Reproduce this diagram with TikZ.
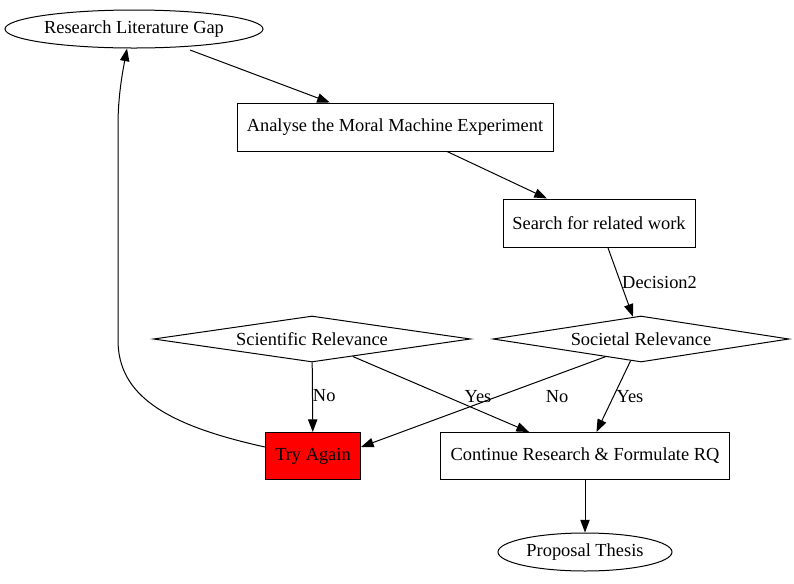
\documentclass[tikz,border=0pt]{standalone}
\usepackage{fontspec}
\setmainfont{Liberation Serif}
\usetikzlibrary{shapes.geometric,arrows.meta,calc}
\begin{document}
\begin{tikzpicture}[x=0.75pt,y=-0.75pt,
  every node/.style={font=\fontsize{13.8}{16}\selectfont, line width=0.75pt},
  box/.style={draw, rectangle, inner sep=0pt},
  oval/.style={draw, ellipse, inner sep=0pt},
  dia/.style={draw, diamond, inner sep=0pt, shape aspect=6.4},
  edge/.style={draw, line width=0.75pt, -{Triangle[length=9.5pt,width=7pt]}},
  lbl/.style={font=\fontsize{13.8}{16}\selectfont, inner sep=0pt}]
\useasboundingbox (0,0) rectangle (794,583);
\node[oval, minimum width=193.5pt, minimum height=28.5pt] (rlg) at (134,29) {Research Literature Gap};
\node[box, minimum width=237pt, minimum height=36pt] (amm) at (395,127) {Analyse the Moral Machine Experiment};
\node[box, minimum width=144pt, minimum height=36pt] (srw) at (599,223) {Search for related work};
\node[dia, minimum width=222pt, minimum height=34.5pt] (sr) at (641,339) {Societal Relevance};
\node[dia, minimum width=237.75pt, minimum height=34.5pt] (sci) at (312,339) {Scientific Relevance};
\node[box, fill=red, minimum width=71.25pt, minimum height=35.25pt] (ta) at (313,456) {Try Again};
\node[box, minimum width=216.75pt, minimum height=35.25pt] (cr) at (585,456) {Continue Research \& Formulate RQ};
\node[oval, minimum width=130.5pt, minimum height=28.5pt] (pt) at (585,552) {Proposal Thesis};

\path[edge] ($(rlg.center)+(56,21)$) -- (amm);
\path[edge] (amm) -- (srw);
\path[edge] (srw) -- node[lbl, right, pos=0.5, xshift=1pt] {Decision2} (sr);
\path[edge] (sci) -- node[lbl, right, pos=0.47, xshift=0pt] {No} (ta);
\path[edge] (sci) -- (cr);
\node[lbl] (ly1) at (478,397) {Yes};
\path[edge] ($(sr.center)+(-35,17.5)$) -- ($(ta.east)+(0,-9)$);
\node[lbl] (ln2) at (557,397) {No};
\path[edge] (sr) -- (cr);
\node[lbl] (ly2) at (630,397) {Yes};
\path[edge] (cr) -- (pt);
\path[edge] ($(ta.west)+(0,-9)$) .. controls (165,425) and (118,395) .. (118,340)
  -- (118,125) .. controls (118,95) and (123,70) .. ($(rlg.center)+(-7,19.5)$);
\end{tikzpicture}
\end{document}
